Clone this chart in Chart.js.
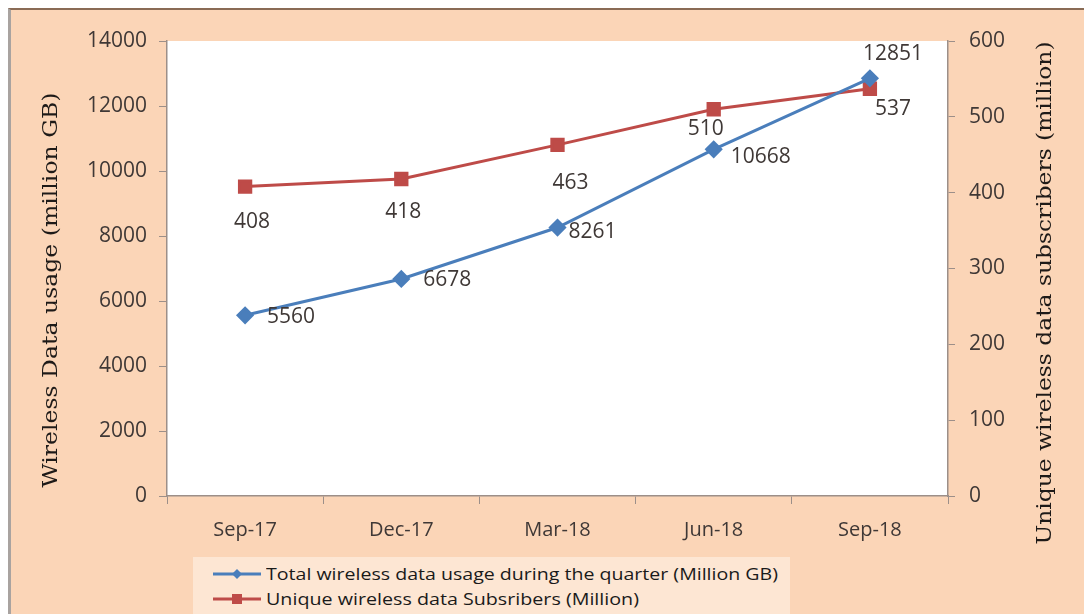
<!DOCTYPE html>
<html>
<head>
<meta charset="utf-8">
<script src="https://cdn.jsdelivr.net/npm/chart.js@4"></script>
<style>
  html, body { margin: 0; padding: 0; background: #ffffff; }
  #wrap { position: absolute; left: 0; top: 0; width: 1084px; height: 614px; overflow: hidden; }
  #frame { position: absolute; left: 8px; top: 8px; width: 1076px; height: 606px; background: #fbd5b7;
           border-top: 2px solid #8a6b55; border-left: 3px solid #a9a3a0; box-sizing: border-box; }
  canvas { position: absolute; left: 0; top: 0; }
  #legend { position: absolute; left: 193px; top: 557px; width: 597px; height: 57px; background: #fde6d3;
            font-family: "Open Sans", sans-serif; font-size: 15.5px; color: #1a1a1a; }
  .row { position: absolute; left: 18px; height: 24px; display: flex; align-items: center; }
  .row svg { width: 52px; height: 20px; margin-right: 3px; flex: none; }
  .row span { display: inline-block; transform-origin: left center; white-space: nowrap; }
</style>
</head>
<body>
<div id="wrap">
  <div id="frame"></div>
  <canvas id="c" width="1084" height="614"></canvas>
  <div id="legend"></div>
</div>
<script>
const categories = ["Sep-17", "Dec-17", "Mar-18", "Jun-18", "Sep-18"];
const usageValues = [5560, 6678, 8261, 10668, 12851];
const subscriberValues = [408, 418, 463, 510, 537];
const usageLabel = "Total wireless data usage during the quarter (Million GB)";
const subscriberLabel = "Unique wireless data Subsribers (Million)";
const leftTitle = "Wireless Data usage (million GB)";
const rightTitle = "Unique wireless data subscribers (million)";
const leftTicks = [0, 2000, 4000, 6000, 8000, 10000, 12000, 14000];
const rightTicks = [0, 100, 200, 300, 400, 500, 600];

const BLUE = "#4a7ebb";
const RED = "#be4b48";
const AXIS = "#9c8f89";
const TXT = "#3f3836";

// label offsets relative to the point (style, not data)
const usageLabelOffsets = [[22, 2], [22, 1], [11, 4], [17, 8], [-7, -24]];
const subscriberLabelOffsets = [[-11, 35], [-16, 33], [-5, 38], [-26, 20], [5, 20]];

const plotBg = {
  id: "plotBg",
  beforeDraw(chart) {
    const { ctx, chartArea: a } = chart;
    ctx.save();
    ctx.fillStyle = "#ffffff";
    ctx.fillRect(a.left, a.top, a.right - a.left, a.bottom - a.top);
    ctx.restore();
  }
};

const dataLabels = {
  id: "dataLabels",
  afterDatasetsDraw(chart) {
    const { ctx } = chart;
    ctx.save();
    ctx.font = '21px "Open Sans", sans-serif';
    ctx.fillStyle = TXT;
    ctx.textBaseline = "middle";
    ctx.textAlign = "left";
    const sets = [[0, usageValues, usageLabelOffsets], [1, subscriberValues, subscriberLabelOffsets]];
    sets.forEach(([di, vals, offs]) => {
      const meta = chart.getDatasetMeta(di);
      meta.data.forEach((pt, i) => {
        ctx.fillText(String(vals[i]), pt.x + offs[i][0], pt.y + offs[i][1]);
      });
    });
    ctx.restore();
  }
};

// axis titles, both reading bottom-to-top
const axisTitles = {
  id: "axisTitles",
  afterDraw(chart) {
    const { ctx } = chart;
    const items = [
      [leftTitle, 52, 290, 395],
      [rightTitle, 1046, 293, 503]
    ];
    ctx.save();
    ctx.font = '20px "DejaVu Serif", serif';
    ctx.fillStyle = "#1e1a18";
    ctx.textAlign = "center";
    ctx.textBaseline = "middle";
    items.forEach(([t, x, y, len]) => {
      const w = ctx.measureText(t).width;
      ctx.save();
      ctx.translate(x, y);
      ctx.rotate(-Math.PI / 2);
      ctx.scale(len / w, 1);
      ctx.fillText(t, 0, 0);
      ctx.restore();
    });
    ctx.restore();
  }
};

const tickFont = { family: '"Open Sans", sans-serif', size: 21 };
const xTickFont = { family: '"Open Sans", sans-serif', size: 20 };

new Chart(document.getElementById("c"), {
  type: "line",
  data: {
    labels: categories,
    datasets: [
      {
        label: usageLabel, data: usageValues, yAxisID: "y",
        borderColor: BLUE, backgroundColor: BLUE, borderWidth: 3,
        pointStyle: "rectRot", pointRadius: 7, pointHoverRadius: 7, tension: 0
      },
      {
        label: subscriberLabel, data: subscriberValues, yAxisID: "y2",
        borderColor: RED, backgroundColor: RED, borderWidth: 3,
        pointStyle: "rect", pointRadius: 8, pointHoverRadius: 8, tension: 0
      }
    ]
  },
  options: {
    responsive: false,
    animation: false,
    layout: { padding: { left: 0, right: 0, top: 41, bottom: 0 } },
    plugins: { legend: { display: false }, tooltip: { enabled: false } },
    scales: {
      x: {
        offset: true,
        grid: { offset: true, drawOnChartArea: false, color: AXIS, tickLength: 8, tickColor: AXIS },
        border: { color: AXIS, width: 1.5 },
        ticks: { font: xTickFont, color: TXT, padding: 14, maxRotation: 0 },
        afterFit(s) { s.height = 118; }
      },
      y: {
        position: "left", min: 0, max: 14000,
        afterBuildTicks(s) { s.ticks = leftTicks.map(v => ({ value: v })); },
        grid: { drawOnChartArea: false, tickLength: 8, tickColor: AXIS },
        border: { color: AXIS, width: 1.5 },
        ticks: { font: tickFont, color: TXT, padding: 12, callback: v => String(v) },
        afterFit(s) { s.width = 167; }
      },
      y2: {
        position: "right", min: 0, max: 600,
        afterBuildTicks(s) { s.ticks = rightTicks.map(v => ({ value: v })); },
        grid: { drawOnChartArea: false, tickLength: 7, tickColor: AXIS },
        border: { color: AXIS, width: 1.5 },
        ticks: { font: tickFont, color: TXT, padding: 14, callback: v => String(v) },
        afterFit(s) { s.width = 1084 - 948; }
      }
    }
  },
  plugins: [plotBg, dataLabels, axisTitles]
});

// HTML legend
const legend = document.getElementById("legend");
[[usageLabel, BLUE, "diamond", 5, 512], [subscriberLabel, RED, "square", 30, 373]].forEach(([txt, col, shape, top, len]) => {
  const row = document.createElement("div");
  row.className = "row";
  row.style.top = top + "px";
  const marker = shape === "diamond"
    ? `<polygon points="26,5 31,10 26,15 21,10" fill="${col}"/>`
    : `<rect x="21" y="5" width="10" height="10" fill="${col}"/>`;
  row.innerHTML = `<svg viewBox="0 0 52 20"><line x1="2" y1="10" x2="50" y2="10" stroke="${col}" stroke-width="3"/>${marker}</svg><span>${txt}</span>`;
  legend.appendChild(row);
  const span = row.querySelector("span");
  const w = span.getBoundingClientRect().width;
  span.style.transform = `scaleX(${len / w})`;
});
</script>
</body>
</html>
